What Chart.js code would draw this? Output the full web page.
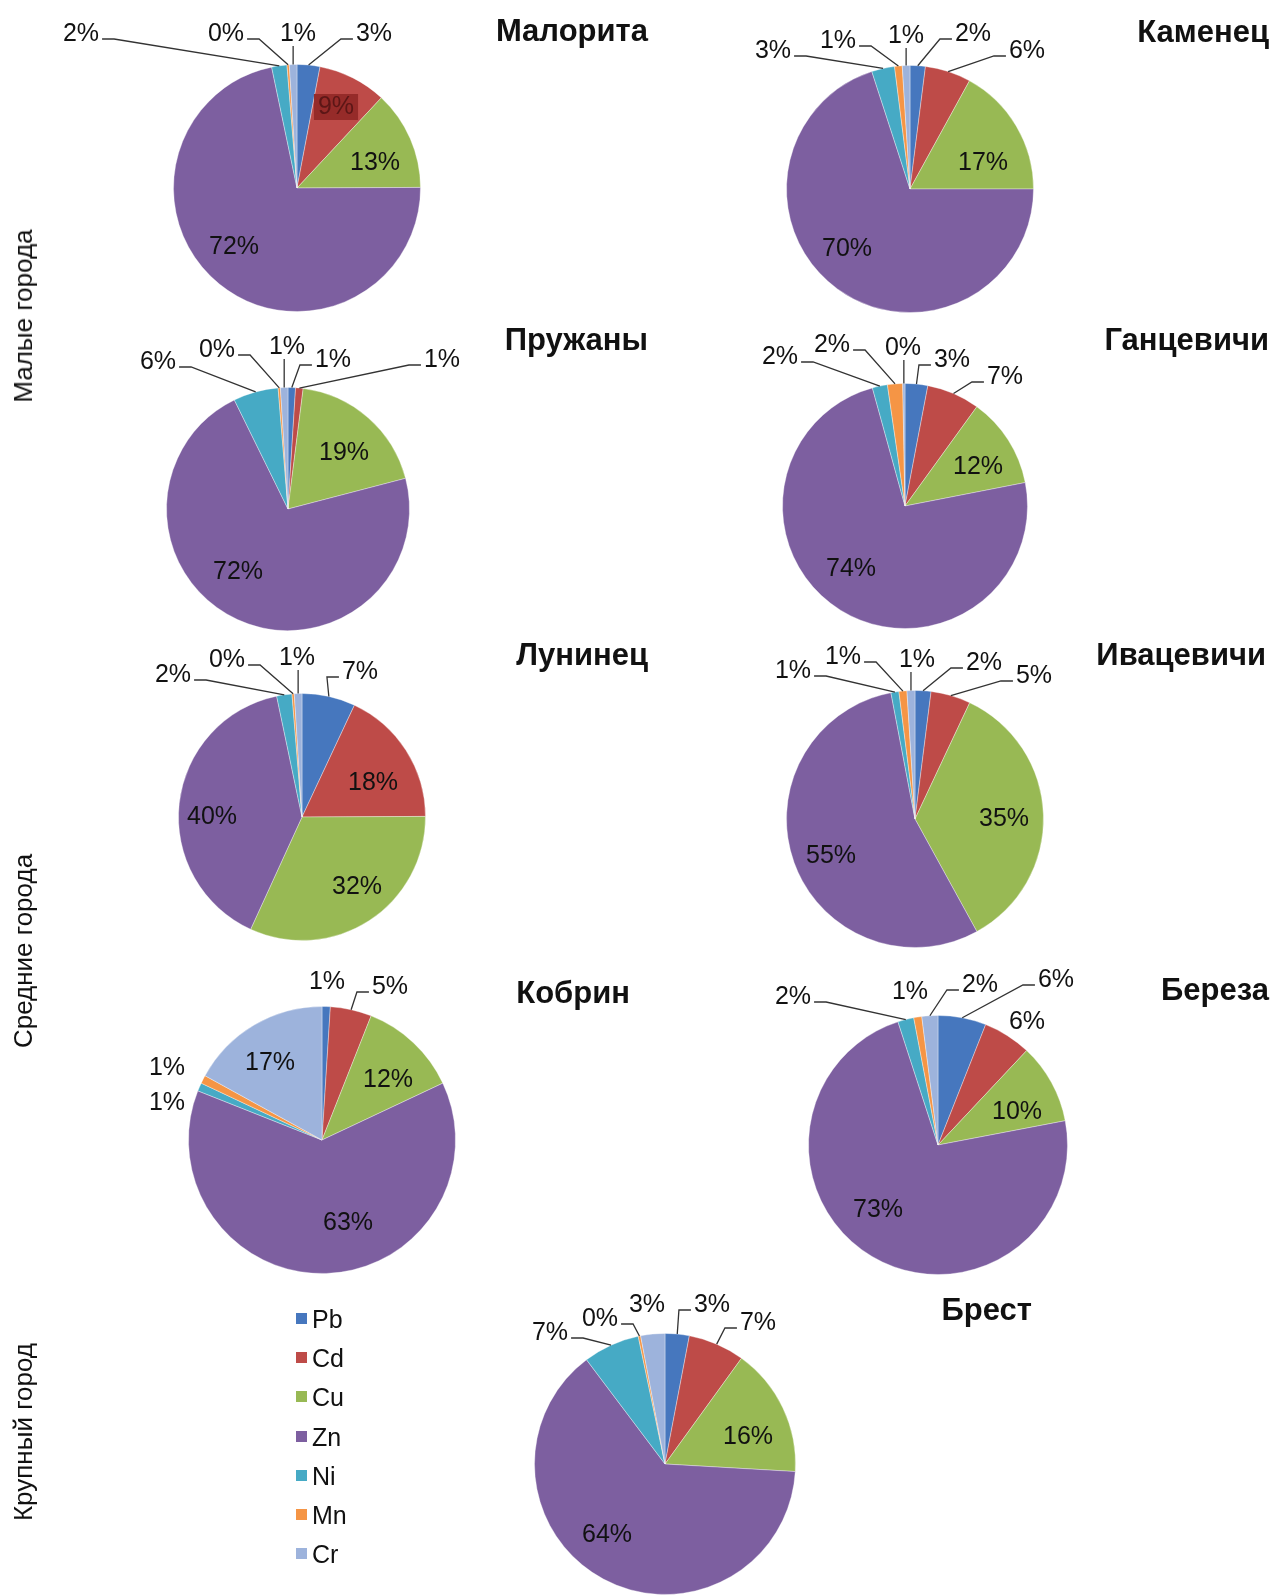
<!DOCTYPE html>
<html>
<head>
<meta charset="utf-8">
<script src="https://cdn.jsdelivr.net/npm/chart.js@4.4.1/dist/chart.umd.min.js"></script>
<style>
  body { margin: 0; background: #fff; width: 1271px; height: 1596px; position: relative; overflow: hidden;
         font-family: "Liberation Sans", Arial, sans-serif; color: #111; }
  canvas { position: absolute; }
  .ttl { position: absolute; font-weight: bold; font-size: 31px; line-height: 31px; white-space: nowrap; }
  .side { position: absolute; font-size: 26px; line-height: 26px; white-space: nowrap;
          transform: translate(-50%, -50%) rotate(-90deg); }
  .leg { position: absolute; font-size: 25px; line-height: 39px; white-space: nowrap; }
  .leg span { display: inline-block; width: 11px; height: 11px; margin-right: 5px; vertical-align: 4px; }
</style>
</head>
<body>
<script>
// metals in slice order (clockwise from 12 o'clock)
const metals = ['Pb', 'Cd', 'Cu', 'Zn', 'Ni', 'Mn', 'Cr'];
const colors = ['#4677BE', '#BE4B48', '#98B954', '#7D5FA0', '#46AAC5', '#F59545', '#9DB3DC'];

// shares, %  (the "0%" slices are thin but visible, so a few tenths)
const malorita    = [3, 9, 13, 72, 2, 0.3, 1];
const kamenets    = [2, 6, 17, 70, 3, 1, 1];
const pruzhany    = [1, 1, 19, 72, 6, 0.3, 1];
const gantsevichi = [3, 7, 12, 74, 2, 2, 0.3];
const luninets    = [7, 18, 32, 40, 2, 0.3, 1];
const ivatsevichi = [2, 5, 35, 55, 1, 1, 1];
const kobrin      = [1, 5, 12, 63, 1, 1, 17];
const bereza      = [6, 6, 10, 73, 2, 1, 2];
const brest       = [3, 7, 16, 64, 7, 0.3, 3];

const groups = ['Малые города', 'Средние города', 'Крупный город'];

// page layout: pie centre/radius, title anchor, label offsets from centre [dx, dy, leader, box]
const pies = [
  { name: 'Малорита', data: malorita, cx: 297, cy: 188, r: 124, tr: 648, ty: 30,
    labels: [[77, -154, 1], [39, -81, 0, '#962b29'], [78, -25, 0], [-63, 59, 0], [-216, -154, 1], [-71, -154, 1], [1, -154, 1]] },
  { name: 'Каменец', data: kamenets, cx: 910, cy: 189, r: 124, tr: 1269, ty: 31,
    labels: [[63, -155, 1], [117, -138, 1], [73, -26, 0], [-63, 60, 0], [-137, -138, 1], [-72, -148, 1], [-4, -153, 1]] },
  { name: 'Пружаны', data: pruzhany, cx: 288, cy: 509, r: 122, tr: 648, ty: 339,
    labels: [[45, -149, 1], [154, -149, 1], [56, -56, 0], [-50, 63, 0], [-130, -147, 1], [-71, -159, 1], [-1, -162, 1]] },
  { name: 'Ганцевичи', data: gantsevichi, cx: 905, cy: 506, r: 123, tr: 1269, ty: 339,
    labels: [[47, -146, 1], [100, -129, 1], [73, -39, 0], [-54, 63, 0], [-125, -149, 1], [-73, -161, 1], [-2, -158, 1]] },
  { name: 'Лунинец', data: luninets, cx: 302, cy: 817, r: 124, tr: 648, ty: 654,
    labels: [[58, -145, 1], [71, -34, 0], [55, 70, 0], [-90, 0, 0], [-129, -142, 1], [-75, -157, 1], [-5, -159, 1]] },
  { name: 'Ивацевичи', data: ivatsevichi, cx: 915, cy: 819, r: 129, tr: 1266, ty: 654,
    labels: [[69, -156, 1], [119, -143, 1], [89, 0, 0], [-84, 37, 0], [-122, -148, 1], [-72, -162, 1], [2, -159, 1]] },
  { name: 'Кобрин', data: kobrin, cx: 322, cy: 1140, r: 134, tr: 630, ty: 992,
    labels: [[5, -158, 0], [68, -153, 1], [66, -60, 0], [26, 83, 0], [-155, -37, 0], [-155, -72, 0], [-52, -77, 0]] },
  { name: 'Береза', data: bereza, cx: 938, cy: 1145, r: 130, tr: 1269, ty: 989,
    labels: [[118, -165, 1], [89, -123, 0], [79, -33, 0], [-60, 65, 0], [-145, -148, 1], [-28, -153, 0], [42, -160, 1]] },
  { name: 'Брест', data: brest, cx: 665, cy: 1464, r: 131, tr: 1032, ty: 1309,
    labels: [[47, -159, 1], [93, -141, 1], [83, -27, 0], [-58, 71, 0], [-115, -131, 1], [-65, -145, 1], [-18, -159, 0]] }
];

function pctLabels(lay) {
  return {
    id: 'pctLabels',
    afterDatasetsDraw(chart) {
      const ctx = chart.ctx;
      const meta = chart.getDatasetMeta(0);
      const vals = chart.data.datasets[0].data;
      ctx.save();
      ctx.font = '25px "Liberation Sans", Arial, sans-serif';
      ctx.textAlign = 'center';
      ctx.textBaseline = 'middle';
      ctx.strokeStyle = '#333';
      ctx.lineWidth = 1.3;
      meta.data.forEach((arc, i) => {
        const p = arc.getProps(['x', 'y', 'startAngle', 'endAngle', 'outerRadius'], true);
        const pl = lay.labels[i];
        const txt = Math.round(vals[i]) + '%';
        const lx = p.x + pl[0], ly = p.y + pl[1];
        const w = ctx.measureText(txt).width;
        if (pl[2]) {
          const mid = (p.startAngle + p.endAngle) / 2;
          const ax = p.x + Math.cos(mid) * p.outerRadius;
          const ay = p.y + Math.sin(mid) * p.outerRadius;
          ctx.beginPath();
          if (Math.abs(ax - lx) < w / 2) {
            ctx.moveTo(ax, ly + 12);
          } else {
            const dir = ax < lx ? -1 : 1;
            const sx = lx + dir * (w / 2 + 3);
            ctx.moveTo(sx, ly + 5);
            ctx.lineTo(sx + dir * 12, ly + 5);
          }
          ctx.lineTo(ax, ay);
          ctx.stroke();
        }
        if (pl[3]) {
          ctx.fillStyle = pl[3];
          ctx.fillRect(lx - w / 2 - 4, ly - 13, w + 8, 26);
          ctx.fillStyle = '#5c1616';
        } else {
          ctx.fillStyle = '#111';
        }
        ctx.fillText(txt, lx, ly);
      });
      ctx.restore();
    }
  };
}

const padL = 260, padR = 260, padT = 200, padB = 30;

pies.forEach((lay) => {
  const cv = document.createElement('canvas');
  cv.width = 2 * lay.r + padL + padR;
  cv.height = 2 * lay.r + padT + padB;
  cv.style.left = (lay.cx - lay.r - padL) + 'px';
  cv.style.top = (lay.cy - lay.r - padT) + 'px';
  document.body.appendChild(cv);

  new Chart(cv, {
    type: 'pie',
    data: {
      labels: metals,
      datasets: [{
        data: lay.data,
        backgroundColor: colors,
        borderColor: 'rgba(255,255,255,0.35)',
        borderWidth: 1
      }]
    },
    options: {
      responsive: false,
      animation: false,
      layout: { padding: { left: padL, right: padR, top: padT, bottom: padB } },
      plugins: { legend: { display: false }, tooltip: { enabled: false } }
    },
    plugins: [pctLabels(lay)]
  });

  const t = document.createElement('div');
  t.className = 'ttl';
  t.textContent = lay.name;
  t.style.right = (1271 - lay.tr) + 'px';
  t.style.top = (lay.ty - 15) + 'px';
  document.body.appendChild(t);
});

// group captions on the left
[316, 951, 1432].forEach((y, i) => {
  const d = document.createElement('div');
  d.className = 'side';
  d.textContent = groups[i];
  d.style.left = '23px';
  d.style.top = y + 'px';
  document.body.appendChild(d);
});

// legend
metals.forEach((m, i) => {
  const d = document.createElement('div');
  d.className = 'leg';
  d.style.left = '296px';
  d.style.top = (1300 + i * 39.2) + 'px';
  d.innerHTML = '<span style="background:' + colors[i] + '"></span>' + m;
  document.body.appendChild(d);
});
</script>
</body>
</html>
